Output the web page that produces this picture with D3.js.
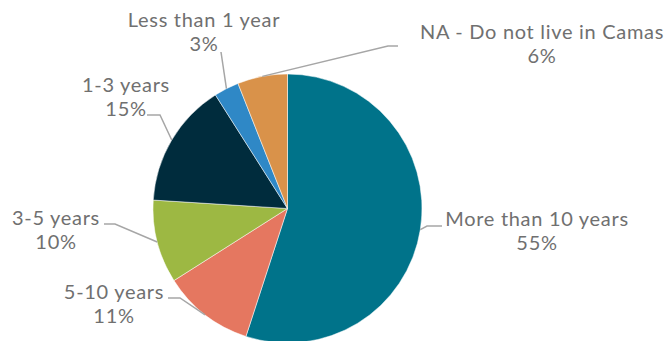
<!DOCTYPE html>
<html>
<head>
<meta charset="utf-8">
<script src="https://d3js.org/d3.v7.min.js"></script>
<style>
  body { margin: 0; background: #fff; }
  svg { display: block; }
</style>
</head>
<body>
<div id="pie"></div>
<script>
// data
var categories = ["More than 10 years", "5-10 years", "3-5 years", "1-3 years", "Less than 1 year", "NA - Do not live in Camas"];
var values = [55, 11, 10, 15, 3, 6];
var colors = ["#00738A", "#E57760", "#9DB843", "#002C3D", "#2F88C6", "#D9924A"];

// label placement (centre x, first baseline) and leader line elbow / end
var labelPos = [[537, 226], [114, 299], [56, 225], [126, 92], [204, 27], [542, 39]];
var leaderElbow = [[427, 226], [180, 298], [115, 224], [160, 115], [221, 52], [388, 46]];
var leaderEnd = [[442, 226], [168, 298], [104, 224], [147, 115], [221, 52], [398, 46]];

var width = 667, height = 341;
var cx = 287.5, cy = 208.5, r = 134.5;

var svg = d3.select("#pie").append("svg")
    .attr("width", width)
    .attr("height", height);

var data = categories.map(function(c, i) { return {name: c, value: values[i], i: i}; });

var pie = d3.pie()
    .sort(null)
    .value(function(d) { return d.value; });

var arc = d3.arc().innerRadius(0).outerRadius(r);

var arcs = pie(data);

var g = svg.append("g").attr("transform", "translate(" + cx + "," + cy + ")");

g.selectAll("path")
    .data(arcs)
    .enter().append("path")
    .attr("d", arc)
    .attr("fill", function(d) { return colors[d.data.i]; })
    .attr("stroke", "#fff")
    .attr("stroke-width", 0.5);

// leader lines from the mid angle on the rim
svg.selectAll("polyline")
    .data(arcs)
    .enter().append("polyline")
    .attr("fill", "none")
    .attr("stroke", "#A6A6A6")
    .attr("stroke-width", 1.5)
    .attr("points", function(d) {
        var a = (d.startAngle + d.endAngle) / 2;
        var sx = cx + r * Math.sin(a), sy = cy - r * Math.cos(a);
        var e = leaderElbow[d.data.i], t = leaderEnd[d.data.i];
        return [[sx, sy], e, t].map(function(p) { return p.join(","); }).join(" ");
    });

var labels = svg.selectAll("text.lbl")
    .data(arcs)
    .enter().append("text")
    .attr("class", "lbl")
    .attr("text-anchor", "middle")
    .style("font-family", "Lato, 'Open Sans', sans-serif")
    .style("font-size", "20px")
    .style("letter-spacing", "0.7px")
    .style("fill", "#707070");

labels.append("tspan")
    .attr("x", function(d) { return labelPos[d.data.i][0]; })
    .attr("y", function(d) { return labelPos[d.data.i][1]; })
    .text(function(d) { return d.data.name; });

labels.append("tspan")
    .attr("x", function(d) { return labelPos[d.data.i][0]; })
    .attr("y", function(d) { return labelPos[d.data.i][1] + 24; })
    .text(function(d) { return d.data.value + "%"; });
</script>
</body>
</html>
